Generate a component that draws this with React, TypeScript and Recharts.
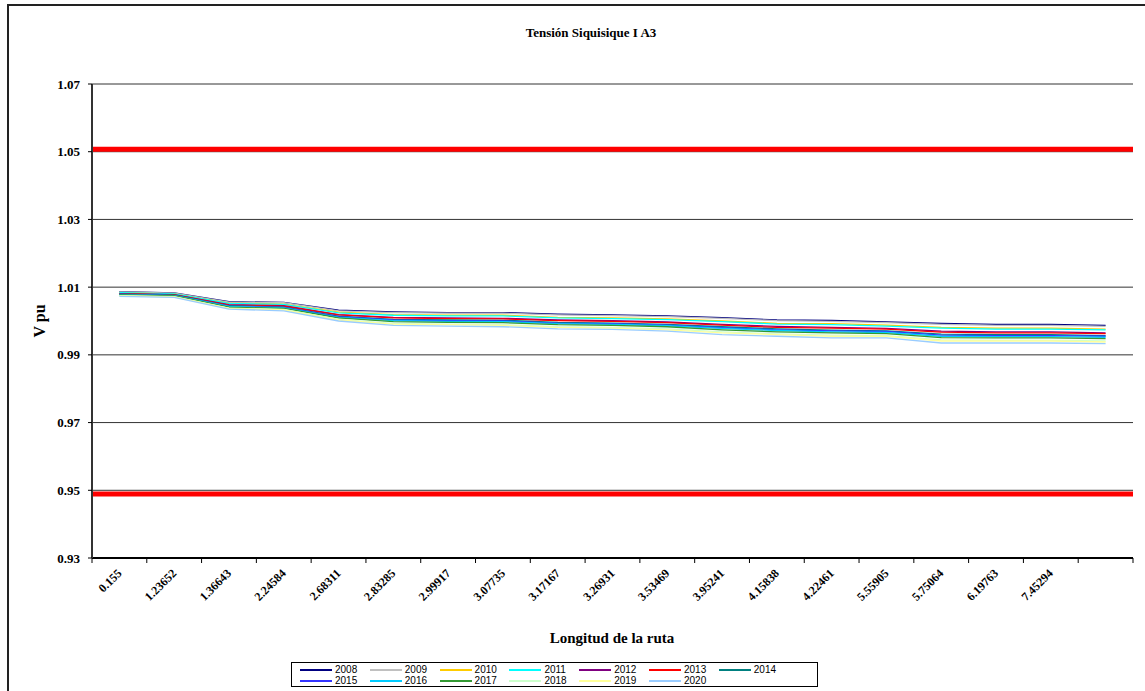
import React from "react";
import { LineChart, Line, XAxis, YAxis, CartesianGrid, ReferenceLine, Legend } from "recharts";

const categories = [
  "0.155", "1.23652", "1.36643", "2.24584", "2.68311", "2.83285", "2.99917", "3.07735", "3.17167", "3.26931",
  "3.53469", "3.95241", "4.15838", "4.22461", "5.55905", "5.75064", "6.19763", "7.45294", "",
];

const y2008 = [1.0087, 1.0083, 1.0057, 1.0055, 1.0032, 1.0027, 1.0025, 1.0025, 1.0020, 1.0018, 1.0015, 1.0010, 1.0003, 1.0002, 0.9997, 0.9993, 0.9990, 0.9990, 0.9987];
const y2009 = [1.0086, 1.0082, 1.0056, 1.0054, 1.0030, 1.0025, 1.0023, 1.0023, 1.0018, 1.0016, 1.0013, 1.0008, 1.0001, 0.9999, 0.9995, 0.9990, 0.9987, 0.9987, 0.9984];
const y2010 = [1.0084, 1.0080, 1.0053, 1.0050, 1.0026, 1.0019, 1.0017, 1.0017, 1.0011, 1.0009, 1.0006, 1.0000, 0.9993, 0.9992, 0.9988, 0.9981, 0.9979, 0.9979, 0.9976];
const y2011 = [1.0084, 1.0080, 1.0052, 1.0049, 1.0024, 1.0017, 1.0015, 1.0015, 1.0009, 1.0007, 1.0004, 0.9998, 0.9991, 0.9989, 0.9985, 0.9979, 0.9976, 0.9976, 0.9974];
const y2012 = [1.0081, 1.0078, 1.0048, 1.0045, 1.0019, 1.0011, 1.0009, 1.0008, 1.0003, 1.0001, 0.9997, 0.9990, 0.9984, 0.9981, 0.9978, 0.9970, 0.9968, 0.9968, 0.9965];
const y2013 = [1.0081, 1.0077, 1.0047, 1.0044, 1.0018, 1.0009, 1.0007, 1.0006, 1.0001, 0.9999, 0.9995, 0.9988, 0.9981, 0.9979, 0.9976, 0.9967, 0.9965, 0.9965, 0.9963];
const y2014 = [1.0079, 1.0076, 1.0045, 1.0041, 1.0014, 1.0005, 1.0003, 1.0002, 0.9996, 0.9994, 0.9990, 0.9983, 0.9977, 0.9973, 0.9971, 0.9961, 0.9960, 0.9960, 0.9957];
const y2015 = [1.0079, 1.0075, 1.0044, 1.0040, 1.0013, 1.0003, 1.0001, 1.0000, 0.9994, 0.9992, 0.9988, 0.9980, 0.9974, 0.9971, 0.9969, 0.9958, 0.9957, 0.9957, 0.9955];
const y2016 = [1.0078, 1.0075, 1.0043, 1.0039, 1.0011, 1.0001, 0.9999, 0.9998, 0.9992, 0.9990, 0.9986, 0.9978, 0.9972, 0.9968, 0.9966, 0.9955, 0.9954, 0.9954, 0.9952];
const y2017 = [1.0077, 1.0074, 1.0041, 1.0037, 1.0009, 0.9998, 0.9996, 0.9995, 0.9989, 0.9987, 0.9983, 0.9974, 0.9968, 0.9965, 0.9963, 0.9951, 0.9950, 0.9950, 0.9948];
const y2018 = [1.0075, 1.0072, 1.0038, 1.0034, 1.0005, 0.9993, 0.9991, 0.9989, 0.9983, 0.9981, 0.9977, 0.9968, 0.9962, 0.9958, 0.9957, 0.9944, 0.9943, 0.9943, 0.9941];
const y2019 = [1.0074, 1.0071, 1.0037, 1.0033, 1.0003, 0.9991, 0.9989, 0.9987, 0.9981, 0.9979, 0.9974, 0.9965, 0.9960, 0.9955, 0.9955, 0.9941, 0.9941, 0.9941, 0.9938];
const y2020 = [1.0073, 1.0070, 1.0035, 1.0030, 1.0000, 0.9987, 0.9985, 0.9983, 0.9977, 0.9975, 0.9970, 0.9960, 0.9955, 0.9950, 0.9950, 0.9935, 0.9935, 0.9935, 0.9933];

const limits = [1.0507, 0.9489];
const yTicks = [0.93, 0.95, 0.97, 0.99, 1.01, 1.03, 1.05, 1.07];

const seriesNames = ["2008", "2009", "2010", "2011", "2012", "2013", "2014", "2015", "2016", "2017", "2018", "2019", "2020"];
const seriesValues = [y2008, y2009, y2010, y2011, y2012, y2013, y2014, y2015, y2016, y2017, y2018, y2019, y2020];
const seriesColors = [
  "#000080", "#c0c0c0", "#ffcc00", "#00ffff", "#800080", "#ff0000", "#008080",
  "#3333ff", "#00ccff", "#339933", "#ccffcc", "#ffff99", "#99ccff",
];

const data = categories.map((c, i) => {
  const row: Record<string, string | number> = { km: c };
  seriesNames.forEach((n, s) => {
    row[n] = seriesValues[s][i];
  });
  return row;
});

const SERIF = "'Liberation Serif', 'Times New Roman', serif";
const SANS = "'Liberation Sans', Arial, sans-serif";
const HALF_BAND = 27.4;

const XTick = (props: any) => {
  const { x, y, payload, index } = props;
  const ax = x + 3;
  const ay = y + 16;
  return (
    <g>
      <line x1={x - HALF_BAND} y1={y} x2={x - HALF_BAND} y2={y + 5} stroke="#000" strokeWidth={1} />
      {index === categories.length - 1 && (
        <line x1={x + HALF_BAND} y1={y} x2={x + HALF_BAND} y2={y + 5} stroke="#000" strokeWidth={1} />
      )}
      <text
        x={ax}
        y={ay}
        transform={`rotate(-45 ${ax} ${ay})`}
        textAnchor="end"
        fontFamily={SERIF}
        fontWeight="bold"
        fontSize={12}
        fill="#000"
      >
        {payload.value}
      </text>
    </g>
  );
};

const LegendBox = () => (
  <div
    style={{
      border: "1px solid #000",
      width: 527,
      height: 25,
      boxSizing: "border-box",
      background: "#fff",
      position: "relative",
      fontFamily: SANS,
      fontSize: 10,
      color: "#000",
    }}
  >
    {seriesNames.map((n, i) => {
      const col = i % 7;
      const row = Math.floor(i / 7);
      return (
        <div
          key={n}
          style={{
            position: "absolute",
            left: 8 + col * 69.8,
            top: row === 0 ? 1 : 12,
            height: 11,
            display: "flex",
            alignItems: "center",
            whiteSpace: "nowrap",
          }}
        >
          <svg width={32} height={4} style={{ display: "block" }}>
            <line x1={0} y1={2} x2={32} y2={2} stroke={seriesColors[i]} strokeWidth={2} />
          </svg>
          <span style={{ marginLeft: 3, lineHeight: "11px" }}>{n}</span>
        </div>
      );
    })}
  </div>
);

export default function App() {
  return (
    <div style={{ position: "absolute", left: 0, top: 0, width: 1145, height: 691, overflow: "hidden", background: "#fff" }}>
      <div
        style={{
          position: "absolute",
          left: 7,
          top: 4,
          width: 1200,
          height: 800,
          borderLeft: "2px solid #222",
          borderTop: "2px solid #222",
        }}
      />
      <div style={{ position: "absolute", left: 0, top: 0 }}>
        <LineChart width={1145} height={691} data={data} margin={{ top: 84, right: 12, bottom: 73, left: 32 }}>
          <text x={591} y={37} textAnchor="middle" fontFamily={SERIF} fontWeight="bold" fontSize={13} fill="#000">
            Tensión Siquisique I A3
          </text>
          <text
            x={45}
            y={321}
            transform="rotate(-90 45 321)"
            textAnchor="middle"
            fontFamily={SERIF}
            fontWeight="bold"
            fontSize={16}
            fill="#000"
          >
            V  pu
          </text>
          <text x={612} y={643} textAnchor="middle" fontFamily={SERIF} fontWeight="bold" fontSize={15} fill="#000">
            Longitud de la ruta
          </text>
          <CartesianGrid yAxisId="left" vertical={false} stroke="#333" strokeWidth={1} />
          <XAxis
            dataKey="km"
            type="category"
            height={60}
            padding={{ left: HALF_BAND, right: HALF_BAND }}
            interval={0}
            tickSize={0}
            tickMargin={0}
            tickLine={false}
            axisLine={{ stroke: "#000", strokeWidth: 2 }}
            tick={<XTick />}
          />
          <YAxis
            yAxisId="left"
            width={60}
            domain={[0.93, 1.07]}
            ticks={yTicks}
            type="number"
            allowDataOverflow
            tickSize={4}
            tickMargin={8}
            tickLine={{ stroke: "#000" }}
            axisLine={{ stroke: "#333", strokeWidth: 2 }}
            tickFormatter={(v: number) => v.toFixed(2)}
            tick={{ fontFamily: SERIF, fontWeight: "bold", fontSize: 13, fill: "#000" }}
          />
          <YAxis
            yAxisId="right"
            orientation="right"
            width={0}
            tick={false}
            tickLine={false}
            axisLine={{ stroke: "#888", strokeWidth: 2 }}
          />
          <ReferenceLine yAxisId="left" y={limits[0]} stroke="#ff0000" strokeWidth={5} />
          <ReferenceLine yAxisId="left" y={limits[1]} stroke="#ff0000" strokeWidth={5} />
          {seriesNames.map((n, i) => (
            <Line
              key={n}
              yAxisId="left"
              dataKey={n}
              name={n}
              stroke={seriesColors[i]}
              strokeWidth={1.3}
              dot={false}
              type="linear"
              isAnimationActive={false}
            />
          ))}
          <Legend
            layout="horizontal"
            verticalAlign="middle"
            align="center"
            content={<LegendBox />}
            wrapperStyle={{ position: "absolute", left: 291, top: 662, width: 527, height: 25, margin: 0 }}
          />
        </LineChart>
      </div>
    </div>
  );
}
